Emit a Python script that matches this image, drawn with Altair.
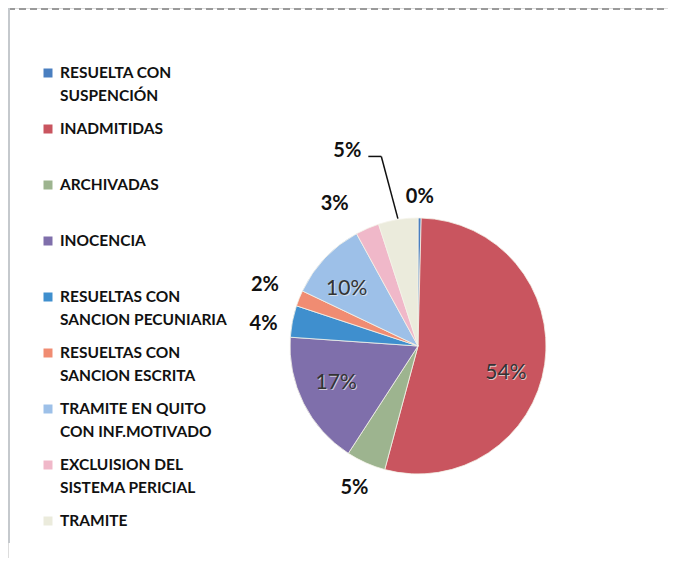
import altair as alt
import pandas as pd

# ---- data ----
categories = [
    "RESUELTA CON SUSPENCIÓN",
    "INADMITIDAS",
    "ARCHIVADAS",
    "INOCENCIA",
    "RESUELTAS CON SANCION PECUNIARIA",
    "RESUELTAS CON SANCION ESCRITA",
    "TRAMITE EN QUITO CON INF.MOTIVADO",
    "EXCLUISION DEL SISTEMA PERICIAL",
    "TRAMITE",
]
legend_text = [
    "RESUELTA  CON\nSUSPENCIÓN",
    "INADMITIDAS",
    "ARCHIVADAS",
    "INOCENCIA",
    "RESUELTAS  CON\nSANCION PECUNIARIA",
    "RESUELTAS  CON\nSANCION ESCRITA",
    "TRAMITE   EN QUITO\nCON INF.MOTIVADO",
    "EXCLUISION DEL\nSISTEMA PERICIAL",
    "TRAMITE",
]
values = [0.4, 54, 5, 17, 4, 2, 10, 3, 5]

# ---- styling / layout ----
colors = ["#4a7fc0", "#c9555f", "#9db48f", "#7f6fab", "#3f8fce",
          "#f08c72", "#9dc0e8", "#f0b8c9", "#ebebdc"]
label_inside = [False, True, False, True, False, False, True, False, False]
label_radius = [149, 92, 156, 90, 156, 165, 91, 165, 207]
label_nudge_deg = [0, 9, 0, 2, -3, 0, -5, -7, -11]
leader = [False, False, False, False, False, False, False, False, True]

W, H = 660, 550
CX, CY, R = 410, 338, 128
LEG_TOP, LEG_STEP = 65, 56

df = pd.DataFrame({
    "idx": list(range(len(categories))),
    "cat": categories,
    "legend": legend_text,
    "value": values,
    "inside": label_inside,
    "lr": label_radius,
    "nudge": label_nudge_deg,
    "leader": leader,
})

base = alt.Chart(df).transform_joinaggregate(
    total="sum(value)"
).transform_window(
    cum="sum(value)", sort=[alt.SortField("idx")]
).transform_calculate(
    mid="((datum.cum - datum.value/2)/datum.total)*2*PI + datum.nudge*PI/180",
    edge="((datum.cum - datum.value/2)/datum.total)*2*PI",
    pct="format(datum.value/datum.total, '.0%')",
).transform_calculate(
    lx=f"{CX} + datum.lr*sin(datum.mid)",
    ly=f"{CY} - datum.lr*cos(datum.mid)",
    ex=f"{CX} + {R + 1}*sin(datum.edge)",
    ey=f"{CY} - {R + 1}*cos(datum.edge)",
    legy=f"{LEG_TOP} + datum.idx*{LEG_STEP}",
)

color = alt.Color("cat:N", scale=alt.Scale(domain=categories, range=colors), legend=None)

arcs = alt.Chart(df).mark_arc(radius=R, stroke="#f4f2e8", strokeWidth=0.8).encode(
    theta=alt.Theta("value:Q", stack=True),
    color=color,
    order=alt.Order("idx:Q"),
    x=alt.value(CX),
    y=alt.value(CY),
)

X = lambda f: alt.X(f, type="quantitative", scale=None, axis=None)
Y = lambda f: alt.Y(f, type="quantitative", scale=None, axis=None)

outside_labels = base.transform_filter("!datum.inside").mark_text(
    font="Lato", fontWeight="bold", fontSize=20, color="#111111",
    align="center", baseline="middle",
).encode(x=X("lx"), y=Y("ly"), text="pct:N")

inside_shadow = base.transform_filter("datum.inside").mark_text(
    font="Lato", fontSize=21, color="#eeeeee", opacity=0.7,
    align="center", baseline="middle", dx=1, dy=1,
).encode(x=X("lx"), y=Y("ly"), text="pct:N")

inside_labels = base.transform_filter("datum.inside").mark_text(
    font="Lato", fontSize=21, color="#333333",
    align="center", baseline="middle",
).encode(x=X("lx"), y=Y("ly"), text="pct:N")

leader_h = base.transform_filter("datum.leader").transform_calculate(
    ax="datum.lx + 21", bx="datum.lx + 34", ay="datum.ly + 5"
).mark_rule(color="#111111", strokeWidth=1.5).encode(
    x=X("ax"), x2="bx:Q", y=Y("ay")
)
leader_d = base.transform_filter("datum.leader").transform_calculate(
    bx="datum.lx + 34", ay="datum.ly + 5"
).mark_rule(color="#111111", strokeWidth=1.5).encode(
    x=X("bx"), x2="ex:Q", y=Y("ay"), y2="ey:Q"
)

legend_sq = base.mark_square(size=81, opacity=1).encode(
    x=alt.value(40), y=Y("legy"), color=color
)
legend_txt = base.mark_text(
    font="Lato", fontWeight="bold", fontSize=15.5, color="#111111",
    align="left", baseline="middle", lineBreak="\n", lineHeight=23,
).encode(x=alt.value(52), y=Y("legy"), text="legend:N")

frame_top = alt.Chart(df).mark_rule(color="#9a9a9a", strokeDash=[7, 4], strokeWidth=1.5).encode(
    x=alt.value(0), x2=alt.value(W), y=alt.value(1)
)
frame_left = alt.Chart(df).mark_rule(color="#c4c8cc", strokeWidth=1.5).encode(
    x=alt.value(1), y=alt.value(0), y2=alt.value(535)
)

chart = alt.layer(
    frame_top, frame_left, arcs, inside_shadow, inside_labels, outside_labels,
    leader_h, leader_d, legend_sq, legend_txt
).properties(
    width=W, height=H, padding=0,
    autosize=alt.AutoSizeParams(type="none"),
).configure_view(stroke=None).configure(background="white")

chart.save("out.html", embed_options={"renderer": "svg", "actions": False})
